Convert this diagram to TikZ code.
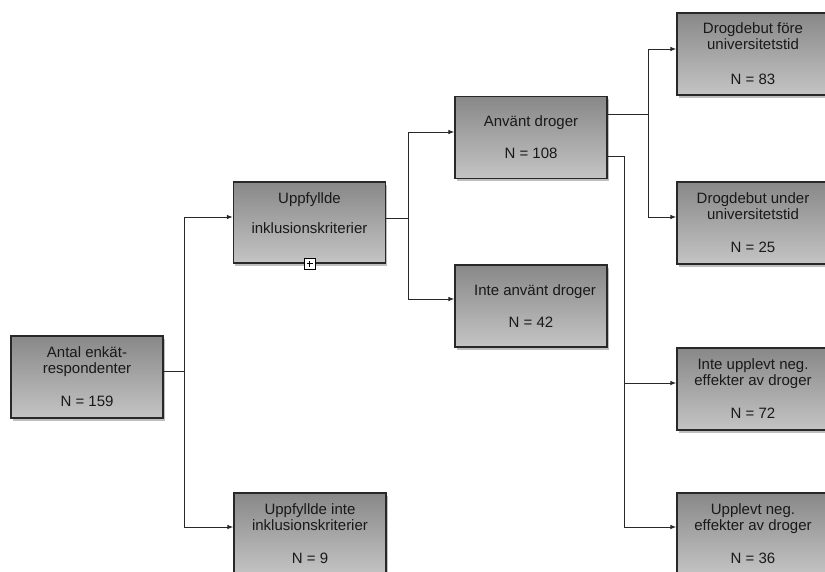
\documentclass[tikz,border=0pt]{standalone}
\usepackage{fontspec}
\setmainfont{Liberation Sans}
\usetikzlibrary{arrows.meta,shadows}
\definecolor{boxtop}{RGB}{136,136,136}
\definecolor{boxbot}{RGB}{196,196,196}
\definecolor{edge}{RGB}{40,40,40}
\definecolor{txt}{RGB}{25,25,25}
\tikzset{
  box/.style={draw=edge, line width=1.2pt, top color=boxtop, bottom color=boxbot,
    minimum width=152pt, minimum height=82pt, inner sep=0pt, align=center,
    text=txt, font=\fontsize{15}{16}\selectfont,
    drop shadow={shadow xshift=1.5pt, shadow yshift=-2.5pt, opacity=0.25, fill=black}},
  lbl/.style={align=center, text=txt, font=\fontsize{15}{16}\selectfont, inner sep=0pt},
  conn/.style={draw=edge, line width=1pt},
  arr/.style={conn, -{Latex[length=6pt,width=4.5pt]}},
  plusbox/.style={draw=black, fill=white, line width=0.9pt, minimum size=11pt, inner sep=0pt,
    path picture={\draw[line width=0.9pt] ([yshift=-2.5pt]path picture bounding box.north) -- ([yshift=2.5pt]path picture bounding box.south)
      ([xshift=2.5pt]path picture bounding box.west) -- ([xshift=-2.5pt]path picture bounding box.east);}}
}
\begin{document}
\begin{tikzpicture}[x=1pt,y=-1pt]
\useasboundingbox (0,0) rectangle (825,571);
\clip (0,0) rectangle (825,571);
\fill[white] (0,0) rectangle (825,571);

\node[box] (a) at (87,377) {Antal enkät-\\respondenter\\[17pt]N = 159};
\node[box, minimum height=81pt] (b) at (309.5,222.5) {};
\node[lbl] (bt) at (309.5,213) {Uppfyllde\\[14pt]inklusionskriterier};
\node[plusbox] (bp) at (b.south) {};
\node[box] (c) at (310,534) {Uppfyllde inte\\inklusionskriterier\\[17pt]N = 9};
\node[box] (d) at (531,137.5) {Använt droger\\[16pt]N = 108};
\node[box] (e) at (531,306) {\hspace*{8pt}Inte använt droger\\[16pt]N = 42};
\node[box] (f) at (753,54) {Drogdebut före\\universitetstid\\[19pt]N = 83};
\node[box] (g) at (753,223) {Drogdebut under\\universitetstid\\[17pt]N = 25};
\node[box] (h) at (753,389) {Inte upplevt neg.\\effekter av droger\\[17pt]N = 72};
\node[box] (i) at (753,534) {Upplevt neg.\\effekter av droger\\[17pt]N = 36};

% connectors
\draw[conn] ([yshift=6pt]a.east) -- ++(21,0) coordinate (ja);
\draw[arr] (ja) |- ([yshift=5.5pt]b.west);
\draw[arr] (ja) |- ([yshift=7pt]c.west);

\draw[conn] ([yshift=4.5pt]b.east) -- ++(22.5,0) coordinate (jb);
\draw[arr] (jb) |- ([yshift=5.5pt]d.west);
\draw[arr] (jb) |- ([yshift=7pt]e.west);

\draw[conn] ([yshift=23.5pt]d.east) -- ++(41,0) coordinate (jd);
\draw[arr] (jd) |- ([yshift=5pt]f.west);
\draw[arr] (jd) |- ([yshift=6pt]g.west);

\draw[conn] ([yshift=-18.5pt]d.east) -- ++(17,0) coordinate (je);
\draw[arr] (je) |- ([yshift=6pt]h.west);
\draw[arr] (je) |- ([yshift=7pt]i.west);
\end{tikzpicture}
\end{document}
